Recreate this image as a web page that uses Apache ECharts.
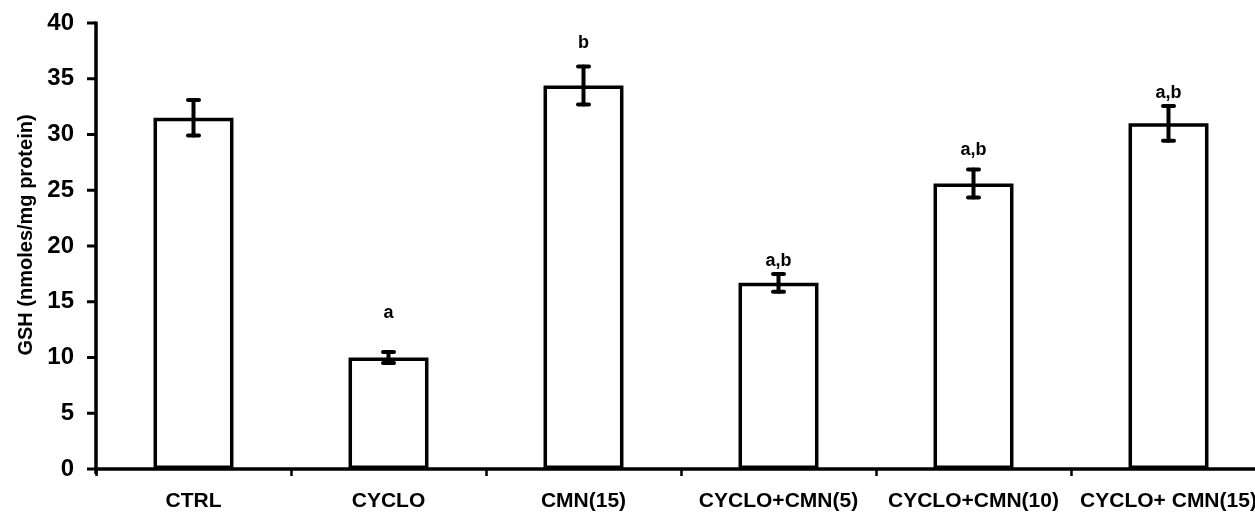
<!DOCTYPE html>
<html>
<head>
<meta charset="utf-8">
<script src="https://cdn.jsdelivr.net/npm/echarts@6/dist/echarts.min.js"></script>
<style>
html,body{margin:0;padding:0;background:#fff;overflow:hidden;}
#chart{width:1255px;height:515px;}
</style>
</head>
<body>
<div id="chart"></div>
<script>
const categories = ['CTRL', 'CYCLO', 'CMN(15)', 'CYCLO+CMN(5)', 'CYCLO+CMN(10)', 'CYCLO+ CMN(15)'];
const means = [31.5, 10.0, 34.4, 16.7, 25.6, 31.0];
const errors = [1.6, 0.5, 1.7, 0.8, 1.25, 1.55];
const sigLabels = ['', 'a', 'b', 'a,b', 'a,b', 'a,b'];
const sigLabelY = [null, 14.0, 38.2, 18.65, 28.6, 33.7];
const yTicks = [0, 5, 10, 15, 20, 25, 30, 35, 40];

const FONT = 'Liberation Sans, Arial, sans-serif';
const chart = echarts.init(document.getElementById('chart'), null, {renderer: 'canvas'});

const option = {
  backgroundColor: '#ffffff',
  animation: false,
  grid: {left: 96, top: 23, width: 1170, height: 446, containLabel: false, outerBoundsMode: 'none'},
  xAxis: {
    type: 'category',
    data: categories,
    axisLine: {lineStyle: {color: '#000', width: 3.5}},
    axisTick: {show: true, inside: false, length: 7, lineStyle: {color: '#000', width: 2.5}, alignWithLabel: false},
    axisLabel: {color: '#000', fontFamily: FONT, fontWeight: 'bold', fontSize: 21, margin: 22, interval: 0},
    splitLine: {show: false}
  },
  yAxis: {
    type: 'value',
    min: 0, max: 40, interval: 5,
    name: 'GSH (nmoles/mg protein)',
    nameLocation: 'middle',
    nameGap: 59,
    nameRotate: 90,
    nameTextStyle: {color: '#000', fontFamily: FONT, fontWeight: 'bold', fontSize: 20, padding: [0, 0, 0, 22]},
    axisLine: {show: false},
    axisTick: {show: false},
    axisLabel: {color: '#000', fontFamily: FONT, fontWeight: 'bold', fontSize: 24, margin: 22,
      formatter: function (v) { return yTicks.indexOf(v) >= 0 ? String(v) : ''; }},
    splitLine: {show: false}
  },
  series: [
    {
      type: 'bar',
      data: means,
      barWidth: '41%',
      itemStyle: {color: '#fff', borderColor: '#000', borderWidth: 3.5},
      z: 2
    },
    {
      // y axis line and outward ticks, placed through the value scale
      type: 'custom',
      z: 7,
      clip: false,
      silent: true,
      data: [[0, 0]],
      renderItem: function (params, api) {
        const cs = params.coordSys;
        const x0 = cs.x;
        const style = {stroke: '#000', lineWidth: 3.5, lineCap: 'butt'};
        const top = api.coord([0, yTicks[yTicks.length - 1]])[1];
        const bottom = api.coord([0, yTicks[0]])[1];
        const children = [
          {type: 'line', shape: {x1: x0, y1: top - 1.5, x2: x0, y2: bottom + 5}, style: style}
        ];
        yTicks.forEach(function (v) {
          const y = api.coord([0, v])[1];
          children.push({type: 'line', shape: {x1: x0 - 9, y1: y, x2: x0, y2: y}, style: {stroke: '#000', lineWidth: 3}});
        });
        return {type: 'group', children: children};
      }
    },
    {
      type: 'custom',
      z: 5,
      data: means.map(function (m, i) { return [i, m - errors[i], m + errors[i]]; }),
      renderItem: function (params, api) {
        const i = api.value(0);
        const lo = api.coord([i, api.value(1)]);
        const hi = api.coord([i, api.value(2)]);
        const half = 5.5;
        const style = {stroke: '#000', lineWidth: 4, lineCap: 'round'};
        return {
          type: 'group',
          children: [
            {type: 'line', shape: {x1: hi[0], y1: hi[1], x2: lo[0], y2: lo[1]}, style: style},
            {type: 'line', shape: {x1: hi[0] - half, y1: hi[1], x2: hi[0] + half, y2: hi[1]}, style: style},
            {type: 'line', shape: {x1: lo[0] - half, y1: lo[1], x2: lo[0] + half, y2: lo[1]}, style: style}
          ]
        };
      }
    },
    {
      type: 'custom',
      z: 6,
      data: sigLabels.map(function (t, i) { return [i, sigLabelY[i] == null ? 0 : sigLabelY[i], t]; }),
      renderItem: function (params, api) {
        const i = params.dataIndex;
        if (!sigLabels[i]) return null;
        const p = api.coord([api.value(0), sigLabelY[i]]);
        return {
          type: 'text',
          style: {
            x: p[0], y: p[1], text: sigLabels[i],
            fill: '#000', font: 'bold 18px ' + FONT,
            textAlign: 'center', textVerticalAlign: 'middle'
          }
        };
      }
    }
  ]
};
chart.setOption(option);
</script>
</body>
</html>
